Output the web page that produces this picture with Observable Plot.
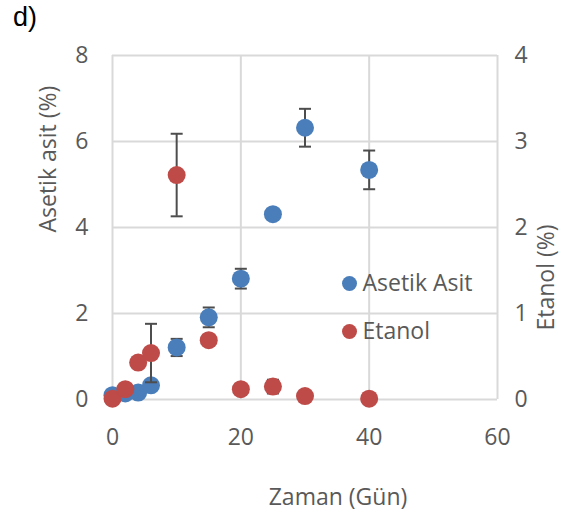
<!DOCTYPE html>
<html>
<head>
<meta charset="utf-8">
<script src="https://cdn.jsdelivr.net/npm/d3@7"></script>
<script src="https://cdn.jsdelivr.net/npm/@observablehq/plot@0.6"></script>
<style>
  html, body { margin: 0; padding: 0; background: #fff; }
  #chart { position: relative; width: 566px; height: 525px; }
  #tag { position: absolute; left: 13px; top: 2px; font: 27px "Liberation Sans", Arial, sans-serif; color: #000; }
</style>
</head>
<body>
<div id="chart"><div id="tag">d)</div></div>
<script>
// Fermentation time (days)
const days = [0, 2, 4, 6, 10, 15, 20, 25, 30, 40];
// Acetic acid (%) and its standard deviation
const aceticAcid = [0.10, 0.14, 0.16, 0.33, 1.21, 1.91, 2.81, 4.31, 6.32, 5.34];
const aceticErr  = [0.02, 0.03, 0.03, 0.05, 0.20, 0.23, 0.23, 0.05, 0.44, 0.45];
// Ethanol (%) and its standard deviation
const ethanol    = [0.01, 0.12, 0.43, 0.54, 2.61, 0.69, 0.12, 0.15, 0.04, 0.01];
const ethanolErr = [0.00, 0.04, 0.00, 0.34, 0.48, 0.00, 0.00, 0.08, 0.00, 0.00];

const xTicks = [0, 20, 40, 60];
const leftTicks = [0, 2, 4, 6, 8];
const rightTicks = [0, 1, 2, 3, 4];
const seriesNames = ["Asetik Asit", "Etanol"];

const blue = "#4a7ebb";
const red = "#be4b48";
const grid = "#d9d9d9";
const ink = "#595959";
const errInk = "#4d4d4d";
const font = "'Open Sans', sans-serif";
const fs = 23;

// Ethanol is read on the right axis, which is half the scale of the left one
const ratio = 2;

const acid = days.map((d, i) => ({day: d, v: aceticAcid[i], e: aceticErr[i]}));
const etoh = days.map((d, i) => ({day: d, v: ethanol[i] * ratio, e: ethanolErr[i] * ratio}));

// horizontal cap for error bars
const cap = {draw(ctx, size) { const w = Math.sqrt(size / Math.PI); ctx.moveTo(-w, 0); ctx.lineTo(w, 0); }};

function errorMarks(data) {
  const withErr = data.filter(d => d.e > 0);
  return [
    Plot.ruleX(withErr, {x: "day", y1: d => d.v - d.e, y2: d => d.v + d.e, stroke: errInk, strokeWidth: 2}),
    Plot.dot(withErr, {x: "day", y: d => d.v + d.e, symbol: cap, r: 6, stroke: errInk, strokeWidth: 2, fill: "none"}),
    Plot.dot(withErr, {x: "day", y: d => d.v - d.e, symbol: cap, r: 6, stroke: errInk, strokeWidth: 2, fill: "none"})
  ];
}

function legendItem(name, color, dy) {
  return [
    Plot.dot([name], {frameAnchor: "top-left", dx: 237, dy, r: 7.5, fill: color}),
    Plot.text([name], {frameAnchor: "top-left", dx: 250, dy, textAnchor: "start", lineAnchor: "middle", fontSize: fs, fill: ink, text: d => d})
  ];
}

const plot = Plot.plot({
  width: 566,
  height: 525,
  marginLeft: 112,
  marginRight: 69,
  marginTop: 55,
  marginBottom: 126,
  style: {fontFamily: font, fontSize: fs + "px", color: ink, background: "transparent"},
  x: {domain: [0, 60]},
  y: {domain: [0, 8]},
  marks: [
    Plot.gridX(xTicks, {stroke: grid, strokeOpacity: 1, strokeWidth: 2}),
    Plot.gridY(leftTicks, {stroke: grid, strokeOpacity: 1, strokeWidth: 2}),
    Plot.axisX({ticks: xTicks, tickSize: 0, tickPadding: 29, label: null, fontSize: fs}),
    Plot.axisY({ticks: leftTicks, tickSize: 0, tickPadding: 24, label: null, fontSize: fs}),
    Plot.axisY({anchor: "right", ticks: leftTicks, tickFormat: d => String(d / ratio), tickSize: 0, tickPadding: 17, label: null, fontSize: fs}),
    // axis titles
    Plot.text(["Asetik asit (%)"], {frameAnchor: "left", dx: -64, dy: 5, rotate: -90, lineAnchor: "middle", fontSize: fs, fill: ink}),
    Plot.text(["Etanol (%)"], {frameAnchor: "right", dx: 49, dy: -3, rotate: -90, lineAnchor: "middle", fontSize: fs, fill: ink}),
    Plot.text(["Zaman (Gün)"], {frameAnchor: "bottom", dx: 33, dy: 98, lineAnchor: "middle", fontSize: fs, fill: ink}),
    // acetic acid
    ...errorMarks(acid),
    Plot.dot(acid, {x: "day", y: "v", r: 9, fill: blue}),
    // ethanol
    ...errorMarks(etoh),
    Plot.dot(etoh, {x: "day", y: "v", r: 9, fill: red}),
    // legend
    ...legendItem(seriesNames[0], blue, 228),
    ...legendItem(seriesNames[1], red, 276)
  ]
});

document.getElementById("chart").appendChild(plot);
</script>
</body>
</html>
